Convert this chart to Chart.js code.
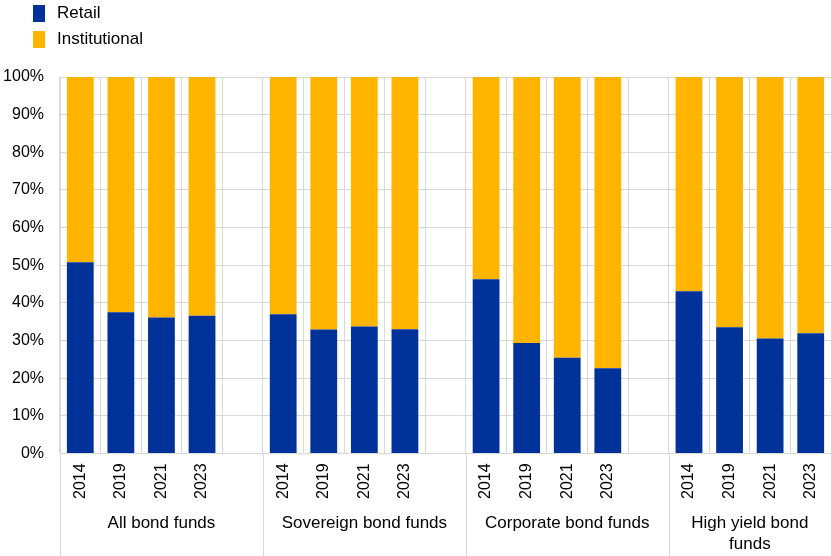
<!DOCTYPE html>
<html>
<head>
<meta charset="utf-8">
<script src="https://cdn.jsdelivr.net/npm/chart.js@4.4.1/dist/chart.umd.min.js"></script>
<style>
  html, body { margin: 0; padding: 0; background: #fff; }
  #wrap { position: relative; width: 831px; height: 556px; }
  #legend { position: absolute; left: 33px; top: 0px; font-family: "Liberation Sans", Arial, sans-serif; font-size: 17px; color: #000; }
  #legend .item { display: flex; align-items: center; height: 26px; }
  #legend .box { width: 12px; height: 17px; margin-right: 12px; }
</style>
</head>
<body>
<div id="wrap">
  <canvas id="chart"></canvas>
  <div id="legend"></div>
</div>
<script>
const years = ['2014', '2019', '2021', '2023'];
const groups = ['All bond funds', 'Sovereign bond funds', 'Corporate bond funds', ['High yield bond', 'funds']];

// share of holdings (%), one row per fund group, columns follow years
const retail = [
  [50.8, 37.5, 36.1, 36.6],
  [37.0, 32.9, 33.7, 33.0],
  [46.3, 29.3, 25.4, 22.6],
  [43.1, 33.5, 30.5, 31.9]
];
const institutional = [
  [49.2, 62.5, 63.9, 63.4],
  [63.0, 67.1, 66.3, 67.0],
  [53.7, 70.7, 74.6, 77.4],
  [56.9, 66.5, 69.5, 68.1]
];

const seriesNames = ['Retail', 'Institutional'];
const seriesColors = ['#003299', '#ffb400'];

const yTicks = [0, 10, 20, 30, 40, 50, 60, 70, 80, 90, 100];

const FONT = '"Liberation Sans", Arial, sans-serif';

// flatten groups into one category axis, with an empty slot after each group except the last
const labels = [];
const groupStart = [];
function flatten(rows) {
  const out = [];
  rows.forEach((row, g) => {
    row.forEach(v => out.push(v));
    if (g < rows.length - 1) out.push(null);
  });
  return out;
}
groups.forEach((g, i) => {
  groupStart.push(labels.length);
  years.forEach(y => labels.push(y));
  if (i < groups.length - 1) labels.push('');
});

// legend (vertical, top-left)
const legendEl = document.getElementById('legend');
seriesNames.forEach((name, i) => {
  const item = document.createElement('div');
  item.className = 'item';
  item.innerHTML = `<span class="box" style="background:${seriesColors[i]}"></span><span>${name}</span>`;
  legendEl.appendChild(item);
});

// group labels under the years + separator lines reaching the bottom
const groupAxis = {
  id: 'groupAxis',
  afterDraw(chart) {
    const { ctx, chartArea, scales: { x } } = chart;
    const slot = x.width / labels.length;
    const edges = groupStart.map(s => x.getPixelForValue(s) - slot / 2);
    edges.push(x.right);
    ctx.save();
    ctx.strokeStyle = '#d9d9d9';
    ctx.lineWidth = 1;
    edges.slice(0, groupStart.length).forEach(e => {
      const px = Math.round(e) + 0.5;
      ctx.beginPath();
      ctx.moveTo(px, chartArea.bottom);
      ctx.lineTo(px, chart.height);
      ctx.stroke();
    });
    ctx.fillStyle = '#000';
    ctx.font = '17px ' + FONT;
    ctx.textAlign = 'center';
    ctx.textBaseline = 'middle';
    groups.forEach((g, i) => {
      const mid = (edges[i] + edges[i + 1]) / 2;
      const lines = Array.isArray(g) ? g : [g];
      lines.forEach((t, j) => {
        ctx.fillText(t, mid, chartArea.bottom + 70 + j * 21);
      });
    });
    ctx.restore();
  }
};

new Chart(document.getElementById('chart'), {
  type: 'bar',
  data: {
    labels: labels,
    datasets: [
      { label: seriesNames[0], data: flatten(retail), backgroundColor: seriesColors[0] },
      { label: seriesNames[1], data: flatten(institutional), backgroundColor: seriesColors[1] }
    ]
  },
  options: {
    responsive: true,
    maintainAspectRatio: false,
    animation: false,
    layout: { padding: { top: 77, right: 0, bottom: 47, left: 0 } },
    plugins: {
      legend: { display: false },
      tooltip: { enabled: false }
    },
    datasets: { bar: { barPercentage: 0.66, categoryPercentage: 1 } },
    scales: {
      x: {
        stacked: true,
        afterFit: scale => { scale.paddingRight = 0; scale.paddingLeft = 0; },
        grid: { color: '#d9d9d9', offset: true, drawTicks: false },
        border: { color: '#d9d9d9' },
        ticks: {
          color: '#000',
          font: { family: FONT, size: 16 },
          minRotation: 90,
          maxRotation: 90,
          autoSkip: false,
          padding: 10
        }
      },
      y: {
        stacked: true,
        min: 0,
        max: 100,
        afterBuildTicks: scale => { scale.ticks = yTicks.map(v => ({ value: v })); },
        afterFit: scale => { scale.width = 60; },
        grid: { color: '#d9d9d9', drawTicks: false },
        border: { color: '#d9d9d9' },
        ticks: {
          color: '#000',
          font: { family: FONT, size: 16 },
          padding: 16,
          callback: v => v + '%'
        }
      }
    }
  },
  plugins: [groupAxis]
});
</script>
</body>
</html>
